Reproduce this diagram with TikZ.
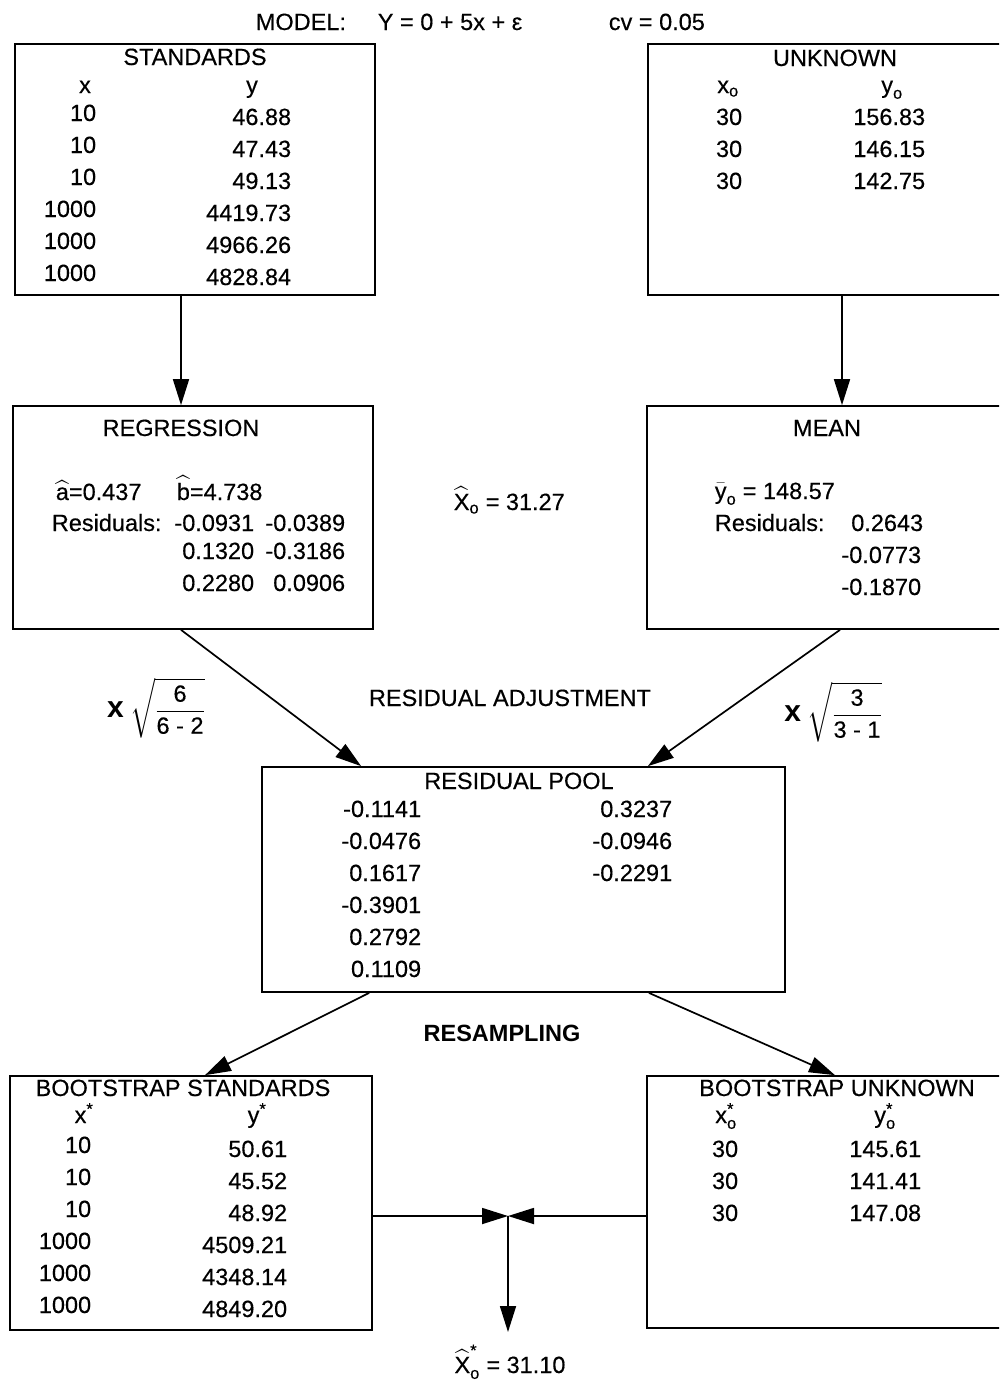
\RequirePackage{fix-cm}
\documentclass[tikz,border=0pt]{standalone}
\usepackage{amsmath}
\usepackage{fontspec}
\setmainfont{Liberation Sans}[UprightFeatures={FakeBold=0.35}]
\usepackage{tikz}
\usetikzlibrary{arrows.meta}
\newcommand{\xhat}{\widehat{\text{X}}}
\newcommand{\lowo}{\text{o}}
\newcommand{\starsub}[1]{$\text{#1}^{\text{*}}_{\lowo}$}
\newcommand{\timesx}{\textbf{\fontsize{30}{30}\selectfont x}}

\begin{document}
\begin{tikzpicture}[x=1pt,y=-1pt,line width=1.7pt,
  >={Triangle[length=26pt,width=16pt]},
  every node/.style={inner sep=0pt,font=\fontsize{23.5}{28}\selectfont},
  box/.style={draw,line width=1.7pt}]
\useasboundingbox (0,0) rectangle (999,1384);
\clip (0,0) rectangle (999,1384);

\draw (255,30) node[anchor=base west](model) {MODEL:};
\draw (377,30) node[anchor=base west](eqn) {Y = 0 + 5x + ε};
\draw (608,30) node[anchor=base west](cv) {cv = 0.05};

% boxes
\draw (195,169.5) node[box,minimum width=360pt,minimum height=251pt](std) {};
\draw (829,169.5) node[box,minimum width=362pt,minimum height=251pt](unk) {};
\draw (193,517.5) node[box,minimum width=360pt,minimum height=223pt](reg) {};
\draw (828,517.5) node[box,minimum width=362pt,minimum height=223pt](mean) {};
\draw (523.5,879.5) node[box,minimum width=523pt,minimum height=225pt](pool) {};
\draw (191,1203) node[box,minimum width=362pt,minimum height=254pt](bstd) {};
\draw (828,1202) node[box,minimum width=362pt,minimum height=252pt](bunk) {};

% standards
\draw (195,65) node[anchor=base](stdt) {STANDARDS};
\draw (85,93) node[anchor=base](stdx) {x};
\draw (252,93) node[anchor=base](stdy) {y};
\draw (97,121) node[anchor=base east](sx1) {10};
\draw (97,153) node[anchor=base east](sx2) {10};
\draw (97,185) node[anchor=base east](sx3) {10};
\draw (97,217) node[anchor=base east](sx4) {1000};
\draw (97,249) node[anchor=base east](sx5) {1000};
\draw (97,281) node[anchor=base east](sx6) {1000};
\draw (292,125) node[anchor=base east](sy1) {46.88};
\draw (292,157) node[anchor=base east](sy2) {47.43};
\draw (292,189) node[anchor=base east](sy3) {49.13};
\draw (292,221) node[anchor=base east](sy4) {4419.73};
\draw (292,253) node[anchor=base east](sy5) {4966.26};
\draw (292,285) node[anchor=base east](sy6) {4828.84};

% unknown
\draw (835,66) node[anchor=base](unkt) {UNKNOWN};
\draw (728,93) node[anchor=base](unkx) {$\text{x}_{\lowo}$};
\draw (892,93) node[anchor=base](unky) {$\text{y}_{\lowo}$};
\draw (743,125) node[anchor=base east](ux1) {30};
\draw (743,157) node[anchor=base east](ux2) {30};
\draw (743,189) node[anchor=base east](ux3) {30};
\draw (926,125) node[anchor=base east](uy1) {156.83};
\draw (926,157) node[anchor=base east](uy2) {146.15};
\draw (926,189) node[anchor=base east](uy3) {142.75};

% regression
\draw (181,436) node[anchor=base](regt) {REGRESSION};
\draw (55,500) node[anchor=base west](ahat) {$\widehat{\text{a}}$=0.437};
\draw (176,500) node[anchor=base west](bhat) {$\widehat{\text{b}}$=4.738};
\draw (51,531) node[anchor=base west](rres) {Residuals:};
\draw (255,531) node[anchor=base east](r1) {-0.0931};
\draw (346,531) node[anchor=base east](r2) {-0.0389};
\draw (255,559) node[anchor=base east](r3) {0.1320};
\draw (346,559) node[anchor=base east](r4) {-0.3186};
\draw (255,591) node[anchor=base east](r5) {0.2280};
\draw (346,591) node[anchor=base east](r6) {0.0906};

\draw (453,510) node[anchor=base west](xo) {$\xhat_{\lowo}$ = 31.27};

% mean
\draw (827,436) node[anchor=base](meant) {MEAN};
\draw (714,499) node[anchor=base west](ybar) {$\bar{\text{y}}_{\lowo}$ = 148.57};
\draw (714,531) node[anchor=base west](mres) {Residuals:};
\draw (924,531) node[anchor=base east](m1) {0.2643};
\draw (922,563) node[anchor=base east](m2) {-0.0773};
\draw (922,595) node[anchor=base east](m3) {-0.1870};

% adjustment
\draw (156,708) node(adjl) {\timesx\ $\sqrt{\dfrac{\text{6}}{\text{6 - 2}}}$};
\draw (833,712) node(adjr) {\timesx\ $\sqrt{\dfrac{\text{3}}{\text{3 - 1}}}$};
\draw (510,706) node[anchor=base](adjt) {RESIDUAL ADJUSTMENT};

% pool
\draw (519,789) node[anchor=base](poolt) {RESIDUAL POOL};
\draw (422,817) node[anchor=base east](p1) {-0.1141};
\draw (422,849) node[anchor=base east](p2) {-0.0476};
\draw (422,881) node[anchor=base east](p3) {0.1617};
\draw (422,913) node[anchor=base east](p4) {-0.3901};
\draw (422,945) node[anchor=base east](p5) {0.2792};
\draw (422,977) node[anchor=base east](p6) {0.1109};
\draw (673,817) node[anchor=base east](p7) {0.3237};
\draw (673,849) node[anchor=base east](p8) {-0.0946};
\draw (673,881) node[anchor=base east](p9) {-0.2291};

\draw (502,1041) node[anchor=base](resamp) {\textbf{RESAMPLING}};

% bootstrap standards
\draw (183,1096) node[anchor=base](bstdt) {BOOTSTRAP STANDARDS};
\draw (84,1123) node[anchor=base](bstdx) {x$^{\text{*}}$};
\draw (257,1123) node[anchor=base](bstdy) {y$^{\text{*}}$};
\draw (92,1153) node[anchor=base east](bx1) {10};
\draw (92,1185) node[anchor=base east](bx2) {10};
\draw (92,1217) node[anchor=base east](bx3) {10};
\draw (92,1249) node[anchor=base east](bx4) {1000};
\draw (92,1281) node[anchor=base east](bx5) {1000};
\draw (92,1313) node[anchor=base east](bx6) {1000};
\draw (288,1157) node[anchor=base east](by1) {50.61};
\draw (288,1189) node[anchor=base east](by2) {45.52};
\draw (288,1221) node[anchor=base east](by3) {48.92};
\draw (288,1253) node[anchor=base east](by4) {4509.21};
\draw (288,1285) node[anchor=base east](by5) {4348.14};
\draw (288,1317) node[anchor=base east](by6) {4849.20};

% bootstrap unknown
\draw (837,1096) node[anchor=base](bunkt) {BOOTSTRAP UNKNOWN};
\draw (726,1123) node[anchor=base](bunkx) {\starsub{x}};
\draw (885,1123) node[anchor=base](bunky) {\starsub{y}};
\draw (739,1157) node[anchor=base east](bu1) {30};
\draw (739,1189) node[anchor=base east](bu2) {30};
\draw (739,1221) node[anchor=base east](bu3) {30};
\draw (922,1157) node[anchor=base east](bv1) {145.61};
\draw (922,1189) node[anchor=base east](bv2) {141.41};
\draw (922,1221) node[anchor=base east](bv3) {147.08};

\draw (510,1373) node[anchor=base](xstar) {$\xhat^{\text{*}}_{\lowo}$ = 31.10};

\coordinate (join) at (508,1216);
\coordinate (tip) at (508,1332);

\draw[->] ([xshift=-14pt]std.south) -- ([xshift=-12pt]reg.north);
\draw[->] ([xshift=13pt]unk.south) -- ([xshift=14pt]mean.north);
\draw[->] ([xshift=-12pt]reg.south) -- ([xshift=100pt]pool.north west);
\draw[->] ([xshift=12pt]mean.south) -- ([xshift=-138pt]pool.north east);
\draw[->] ([xshift=108pt]pool.south west) -- ([xshift=14pt]bstd.north);
\draw[->] ([xshift=-137pt]pool.south east) -- ([xshift=7pt]bunk.north);
\draw[->] ([yshift=-13pt]bstd.east) -- (join);
\draw[->] ([yshift=-14pt]bunk.west) -- (join);
\draw[->] (join) -- (tip);
\end{tikzpicture}
\end{document}
